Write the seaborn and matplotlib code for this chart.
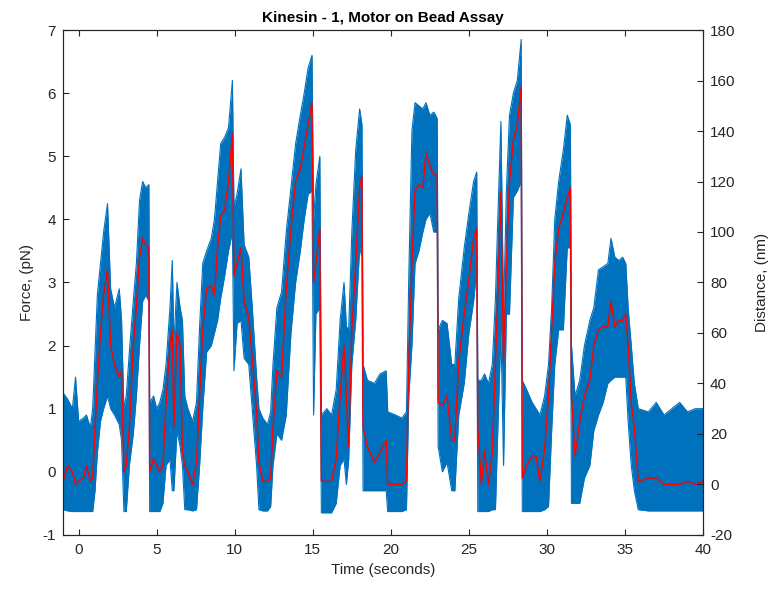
import matplotlib
matplotlib.use("Agg")
import matplotlib.pyplot as plt
import seaborn as sns
import numpy as np

# values (time in s, force in pN)
time_s = [-1.00, -0.70, -0.40, -0.20, 0.00, 0.30, 0.50, 0.75, 0.90, 1.05,
          1.20, 1.40, 1.60, 1.85, 2.05, 2.30, 2.60, 2.75, 2.90, 3.05,
          3.25, 3.50, 3.70, 3.90, 4.10, 4.30, 4.50, 4.55, 4.80, 5.00,
          5.20, 5.40, 5.60, 5.85, 6.00, 6.10, 6.30, 6.50, 6.65, 6.80,
          7.00, 7.30, 7.55, 7.75, 7.95, 8.20, 8.50, 8.70, 8.90, 9.10,
          9.35, 9.60, 9.85, 9.95, 10.15, 10.40, 10.60, 10.90, 11.15, 11.40,
          11.55, 11.80, 12.10, 12.30, 12.45, 12.70, 13.00, 13.30, 13.60, 13.90,
          14.20, 14.45, 14.70, 14.95, 15.05, 15.20, 15.45, 15.55, 15.90, 16.20,
          16.50, 16.75, 17.00, 17.15, 17.30, 17.50, 17.75, 18.00, 18.15, 18.22,
          18.50, 18.95, 19.30, 19.70, 19.80, 20.30, 20.70, 21.00, 21.15, 21.35,
          21.55, 21.80, 22.05, 22.25, 22.50, 22.75, 22.97, 23.03, 23.30, 23.60,
          23.90, 24.10, 24.35, 24.70, 25.00, 25.30, 25.50, 25.57, 25.80, 26.00,
          26.25, 26.50, 26.70, 26.85, 27.05, 27.22, 27.40, 27.60, 27.85, 28.10,
          28.35, 28.42, 28.70, 29.05, 29.30, 29.55, 29.85, 30.10, 30.30, 30.50,
          30.75, 31.05, 31.30, 31.50, 31.57, 31.80, 32.10, 32.40, 32.75, 33.00,
          33.30, 33.60, 33.90, 34.10, 34.35, 34.60, 34.85, 35.05, 35.20, 35.40,
          35.60, 35.85, 36.50, 37.00, 37.50, 38.00, 38.50, 39.00, 39.50, 40.00]

force_smooth = [-0.15, 0.10, 0.00, -0.20, -0.15, -0.10, 0.10, -0.15, -0.10, 0.70,
                1.40, 2.20, 2.80, 3.20, 2.00, 1.70, 1.50, 1.60, 0.00, 0.10,
                0.70, 2.00, 2.60, 3.40, 3.70, 3.60, 3.55, 0.00, 0.20, 0.10,
                0.00, 0.10, 1.10, 2.00, 2.25, 0.70, 2.20, 2.00, 0.30, 0.10,
                0.00, -0.20, 0.15, 1.20, 2.25, 2.90, 2.95, 2.80, 3.55, 4.05,
                4.15, 4.60, 5.35, 3.10, 3.30, 3.55, 2.70, 2.45, 1.70, 0.95,
                0.15, -0.15, -0.15, -0.10, 0.70, 1.60, 1.50, 2.90, 3.85, 4.60,
                4.80, 5.15, 5.50, 5.85, 3.00, 3.30, 3.85, -0.15, -0.15, -0.15,
                0.20, 1.20, 2.00, 1.20, 0.40, 2.25, 3.30, 4.50, 4.70, 0.70,
                0.40, 0.15, 0.30, 0.50, -0.20, -0.20, -0.20, -0.15, 1.75, 3.30,
                4.45, 4.55, 4.50, 5.05, 4.85, 4.70, 4.70, 1.10, 1.05, 1.20,
                0.50, 0.50, 1.75, 2.50, 3.05, 3.70, 3.85, 0.70, -0.20, 0.35,
                -0.20, 0.30, 1.75, 2.80, 4.45, 1.75, 3.30, 4.60, 5.25, 5.50,
                6.10, -0.10, 0.10, 0.25, 0.25, -0.15, 0.35, 1.20, 2.25, 3.30,
                3.85, 4.10, 4.35, 4.50, 1.20, 0.25, 0.80, 1.20, 1.45, 2.00,
                2.25, 2.30, 2.30, 2.70, 2.30, 2.40, 2.40, 2.50, 2.00, 1.10,
                0.70, -0.15, -0.10, -0.10, -0.20, -0.20, -0.20, -0.15, -0.20, -0.15]

force_high = [1.25, 1.15, 1.00, 1.50, 0.80, 0.85, 0.90, 0.70, 1.00, 1.90,
              2.80, 3.30, 3.80, 4.25, 2.90, 2.60, 2.90, 2.40, 1.00, 1.20,
              1.90, 2.70, 3.30, 4.30, 4.60, 4.50, 4.55, 1.10, 1.20, 1.00,
              1.10, 1.30, 1.70, 2.60, 3.35, 2.00, 3.00, 2.60, 2.40, 1.20,
              1.00, 0.80, 1.10, 2.30, 3.30, 3.50, 3.70, 4.00, 4.60, 5.20,
              5.30, 5.45, 6.20, 4.20, 4.40, 4.80, 3.60, 3.40, 2.50, 1.50,
              1.00, 0.85, 0.75, 0.95, 1.70, 2.60, 2.85, 3.80, 4.50, 5.20,
              5.65, 6.00, 6.40, 6.60, 4.00, 4.55, 5.00, 0.90, 1.00, 0.90,
              1.30, 2.40, 3.00, 2.30, 2.25, 3.80, 5.10, 5.75, 5.50, 1.70,
              1.45, 1.40, 1.55, 1.60, 0.95, 0.90, 0.85, 0.95, 3.10, 5.40,
              5.85, 5.80, 5.75, 5.85, 5.65, 5.70, 5.60, 2.25, 2.40, 2.35,
              1.70, 1.70, 2.75, 3.55, 4.10, 4.60, 4.75, 1.45, 1.45, 1.55,
              1.40, 1.70, 2.75, 4.00, 5.55, 2.50, 4.45, 5.65, 6.00, 6.20,
              6.85, 1.45, 1.30, 1.10, 1.00, 0.90, 1.20, 1.70, 2.60, 4.00,
              4.60, 5.10, 5.65, 5.50, 2.00, 1.20, 1.45, 2.00, 2.40, 2.60,
              3.20, 3.25, 3.30, 3.70, 3.40, 3.35, 3.40, 3.30, 2.60, 2.00,
              1.40, 1.00, 0.95, 1.10, 0.90, 1.00, 1.10, 0.95, 1.00, 1.00]

force_low = [-0.60, -0.62, -0.63, -0.63, -0.63, -0.63, -0.63, -0.63, -0.63, -0.30,
             0.30, 0.80, 1.00, 1.20, 1.00, 0.90, 0.75, 0.50, -0.63, -0.63,
             0.10, 0.60, 1.20, 2.00, 2.70, 2.80, 2.70, -0.63, -0.63, -0.63,
             -0.63, -0.50, 0.10, 0.20, -0.30, -0.30, 0.65, 0.40, 0.10, -0.60,
             -0.60, -0.62, -0.60, 0.10, 1.00, 1.90, 2.00, 2.20, 2.40, 2.75,
             3.10, 3.50, 3.80, 1.60, 2.35, 2.40, 1.80, 1.70, 0.90, 0.10,
             -0.60, -0.62, -0.62, -0.55, 0.10, 0.60, 0.50, 0.90, 2.20, 3.00,
             3.50, 4.00, 4.40, 4.45, 0.90, 2.50, 2.60, -0.65, -0.65, -0.65,
             -0.50, 0.10, 0.20, -0.20, 0.20, 1.70, 2.40, 3.55, 3.40, -0.30,
             -0.30, -0.30, -0.30, -0.30, -0.63, -0.63, -0.63, -0.60, 1.20, 2.00,
             3.30, 3.50, 3.80, 4.00, 4.10, 3.80, 3.80, 0.40, 0.00, 0.15,
             -0.30, -0.30, 0.90, 1.40, 2.20, 2.70, 3.20, -0.63, -0.63, -0.63,
             -0.63, -0.60, -0.60, 0.65, 2.25, 0.10, 2.50, 2.50, 4.35, 4.45,
             4.60, -0.63, -0.63, -0.63, -0.63, -0.63, -0.60, -0.55, 0.65, 1.70,
             2.25, 2.25, 3.55, 3.55, -0.50, -0.50, -0.50, -0.10, 0.10, 0.65,
             0.90, 1.10, 1.40, 1.45, 1.50, 1.50, 1.50, 1.50, 0.80, 0.10,
             -0.30, -0.60, -0.62, -0.62, -0.62, -0.62, -0.62, -0.62, -0.62, -0.62]

sns.set_style("white")
plt.rcParams['font.family'] = ['Liberation Sans', 'DejaVu Sans']
plt.rcParams['axes.unicode_minus'] = False

fig = plt.figure(figsize=(7.76, 6.01), dpi=100)
ax = fig.add_axes([0.0812, 0.110, 0.8248, 0.840])

blue = '#0072BD'
ax.fill_between(time_s, force_low, force_high, color=blue, linewidth=0)
sns.lineplot(x=time_s, y=force_high, ax=ax, color=blue, linewidth=0.8, sort=False)
sns.lineplot(x=time_s, y=force_low, ax=ax, color=blue, linewidth=0.8, sort=False)
sns.lineplot(x=time_s, y=force_smooth, ax=ax, color='red', linewidth=1.0, sort=False)

ax.set_xlim(-1, 40)
ax.set_ylim(-1, 7)
ax.set_xticks(range(0, 41, 5))
ax.set_yticks(range(-1, 8))

ax2 = ax.twinx()
ax2.set_ylim(-20, 180)
ax2.set_yticks(range(-20, 181, 20))

dark = '#262626'
for a in (ax, ax2):
    for s in a.spines.values():
        s.set_color(dark)
        s.set_linewidth(0.8)
ax.tick_params(axis='x', direction='in', top=True, bottom=True, length=4,
               colors=dark, labelsize=11, pad=6)
ax.tick_params(axis='y', direction='in', left=True, right=False, length=4,
               colors=dark, labelsize=11, pad=5)
ax2.tick_params(axis='y', direction='in', right=True, length=4,
                colors=dark, labelsize=11, pad=5)

ax.set_title('Kinesin - 1, Motor on Bead Assay', fontsize=11, fontweight='bold',
             color='black', pad=6)
ax.set_xlabel('Time (seconds)', fontsize=11, color=dark, labelpad=4)
ax.set_ylabel('Force, (pN)', fontsize=11, color=dark, labelpad=6)
ax2.set_ylabel('Distance, (nm)', fontsize=11, color=dark, labelpad=14)

fig.savefig('out.png', dpi=100)
